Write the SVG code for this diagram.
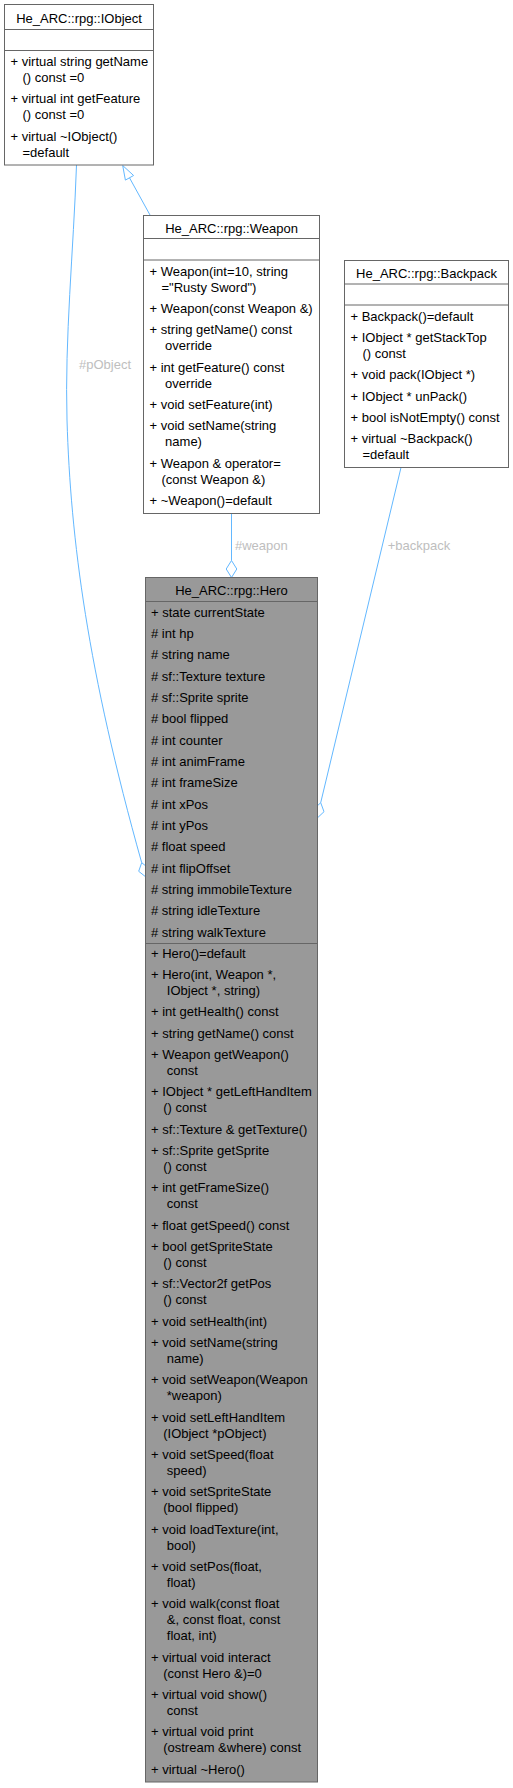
<svg xmlns="http://www.w3.org/2000/svg" width="513" height="1788" viewBox="0 0 513 1788">
<style>
text{font-family:"Liberation Sans",Arial,Helvetica,sans-serif;font-size:13px;fill:#000}
.t{text-anchor:middle}
.box{fill:#fff;stroke:#666;stroke-width:1}
.hbox{fill:#999;stroke:#666;stroke-width:1}
.sep{stroke:#666;stroke-width:1;fill:none}
.edge{stroke:#63b8ff;stroke-width:1;fill:none}
.head{stroke:#63b8ff;stroke-width:1;fill:#fff}
.lbl{fill:#bebebe}
</style>
<rect width="513" height="1788" fill="#fff"/>
<g id="connectors">
<path class="edge" d="M150,215 L129.5,177.8"/>
<polygon class="head" points="122.7,165.5 133.6,175.5 125.4,180.1"/>
<path class="edge" d="M76.5,165 C73.5,250 64.6,340 67,420 C70.6,540 87.7,670.7 141.7,862.7"/>
<polygon class="head" points="141.7,862.7 148.9,868.4 145.9,877 138.7,871.3"/>
<text class="lbl" x="79" y="368.5">#pObject</text>
<path class="edge" d="M231.5,513.5 L231.5,560.5"/>
<polygon class="head" points="231.5,560.5 236.8,569 231.5,577.5 226.2,569"/>
<text class="lbl" x="235" y="549.5">#weapon</text>
<path class="edge" d="M401,467.5 L320.7,802.7"/>
<polygon class="head" points="320.7,802.7 324,811.7 317,818.3 313.7,809.3"/>
<text class="lbl" x="387.7" y="549.5">+backpack</text>
</g>
<g id="IObject">
<rect class="box" x="4.5" y="4.5" width="149" height="160.5"/>
<path class="sep" d="M4.5,29.5H153.5M4.5,50.5H153.5"/>
<text class="t" x="79" y="23">He_ARC::rpg::IObject</text>
<text x="10.5" y="66">+ virtual string getName</text>
<text x="22.5" y="82">() const =0</text>
<text x="10.5" y="103.3">+ virtual int getFeature</text>
<text x="22.5" y="119.3">() const =0</text>
<text x="10.5" y="140.7">+ virtual ~IObject()</text>
<text x="22.5" y="156.7">=default</text>
</g>
<g id="Weapon">
<rect class="box" x="143.5" y="215.5" width="176" height="298"/>
<path class="sep" d="M143.5,238.5H319.5M143.5,260H319.5"/>
<text class="t" x="231.5" y="232.5">He_ARC::rpg::Weapon</text>
<text x="149.5" y="275.5">+ Weapon(int=10, string</text>
<text x="161.5" y="291.5">="Rusty Sword")</text>
<text x="149.5" y="312.8">+ Weapon(const Weapon &amp;)</text>
<text x="149.5" y="334.2">+ string getName() const</text>
<text x="165.1" y="350.2">override</text>
<text x="149.5" y="371.5">+ int getFeature() const</text>
<text x="165.1" y="387.5">override</text>
<text x="149.5" y="408.8">+ void setFeature(int)</text>
<text x="149.5" y="430.2">+ void setName(string</text>
<text x="165.1" y="446.2">name)</text>
<text x="149.5" y="467.5">+ Weapon &amp; operator=</text>
<text x="161.5" y="483.5">(const Weapon &amp;)</text>
<text x="149.5" y="504.8">+ ~Weapon()=default</text>
</g>
<g id="Backpack">
<rect class="box" x="344.5" y="260.5" width="164" height="207"/>
<path class="sep" d="M344.5,284H508.5M344.5,305H508.5"/>
<text class="t" x="426.5" y="277.5">He_ARC::rpg::Backpack</text>
<text x="350.5" y="320.5">+ Backpack()=default</text>
<text x="350.5" y="341.8">+ IObject * getStackTop</text>
<text x="362.5" y="357.8">() const</text>
<text x="350.5" y="379.2">+ void pack(IObject *)</text>
<text x="350.5" y="400.5">+ IObject * unPack()</text>
<text x="350.5" y="421.8">+ bool isNotEmpty() const</text>
<text x="350.5" y="443.2">+ virtual ~Backpack()</text>
<text x="362.5" y="459.2">=default</text>
</g>
<g id="Hero">
<rect class="hbox" x="145.5" y="577.5" width="172" height="1204.5"/>
<path class="sep" d="M145.5,601.5H317.5M145.5,943.5H317.5"/>
<text class="t" x="231.5" y="595">He_ARC::rpg::Hero</text>
<text x="151" y="616.5">+ state currentState</text>
<text x="151" y="637.8"># int hp</text>
<text x="151" y="659.2"># string name</text>
<text x="151" y="680.5"># sf::Texture texture</text>
<text x="151" y="701.8"># sf::Sprite sprite</text>
<text x="151" y="723.2"># bool flipped</text>
<text x="151" y="744.5"># int counter</text>
<text x="151" y="765.8"># int animFrame</text>
<text x="151" y="787.1"># int frameSize</text>
<text x="151" y="808.5"># int xPos</text>
<text x="151" y="829.8"># int yPos</text>
<text x="151" y="851.1"># float speed</text>
<text x="151" y="872.5"># int flipOffset</text>
<text x="151" y="893.8"># string immobileTexture</text>
<text x="151" y="915.1"># string idleTexture</text>
<text x="151" y="936.5"># string walkTexture</text>
<text x="151" y="957.8">+ Hero()=default</text>
<text x="151" y="979.1">+ Hero(int, Weapon *,</text>
<text x="166.8" y="995.1">IObject *, string)</text>
<text x="151" y="1016.4">+ int getHealth() const</text>
<text x="151" y="1037.8">+ string getName() const</text>
<text x="151" y="1059.1">+ Weapon getWeapon()</text>
<text x="166.8" y="1075.1">const</text>
<text x="151" y="1096.4">+ IObject * getLeftHandItem</text>
<text x="163.2" y="1112.4">() const</text>
<text x="151" y="1133.8">+ sf::Texture &amp; getTexture()</text>
<text x="151" y="1155.1">+ sf::Sprite getSprite</text>
<text x="163.2" y="1171.1">() const</text>
<text x="151" y="1192.4">+ int getFrameSize()</text>
<text x="166.8" y="1208.4">const</text>
<text x="151" y="1229.8">+ float getSpeed() const</text>
<text x="151" y="1251.1">+ bool getSpriteState</text>
<text x="163.2" y="1267.1">() const</text>
<text x="151" y="1288.4">+ sf::Vector2f getPos</text>
<text x="163.2" y="1304.4">() const</text>
<text x="151" y="1325.8">+ void setHealth(int)</text>
<text x="151" y="1347.1">+ void setName(string</text>
<text x="166.8" y="1363.1">name)</text>
<text x="151" y="1384.4">+ void setWeapon(Weapon</text>
<text x="166.8" y="1400.4">*weapon)</text>
<text x="151" y="1421.8">+ void setLeftHandItem</text>
<text x="163.2" y="1437.8">(IObject *pObject)</text>
<text x="151" y="1459.1">+ void setSpeed(float</text>
<text x="166.8" y="1475.1">speed)</text>
<text x="151" y="1496.4">+ void setSpriteState</text>
<text x="163.2" y="1512.4">(bool flipped)</text>
<text x="151" y="1533.8">+ void loadTexture(int,</text>
<text x="166.8" y="1549.8">bool)</text>
<text x="151" y="1571.1">+ void setPos(float,</text>
<text x="166.8" y="1587.1">float)</text>
<text x="151" y="1608.4">+ void walk(const float</text>
<text x="166.8" y="1624.4">&amp;, const float, const</text>
<text x="166.8" y="1640.4">float, int)</text>
<text x="151" y="1661.8">+ virtual void interact</text>
<text x="163.2" y="1677.8">(const Hero &amp;)=0</text>
<text x="151" y="1699.1">+ virtual void show()</text>
<text x="166.8" y="1715.1">const</text>
<text x="151" y="1736.4">+ virtual void print</text>
<text x="163.2" y="1752.4">(ostream &amp;where) const</text>
<text x="151" y="1773.8">+ virtual ~Hero()</text>
</g>
</svg>
